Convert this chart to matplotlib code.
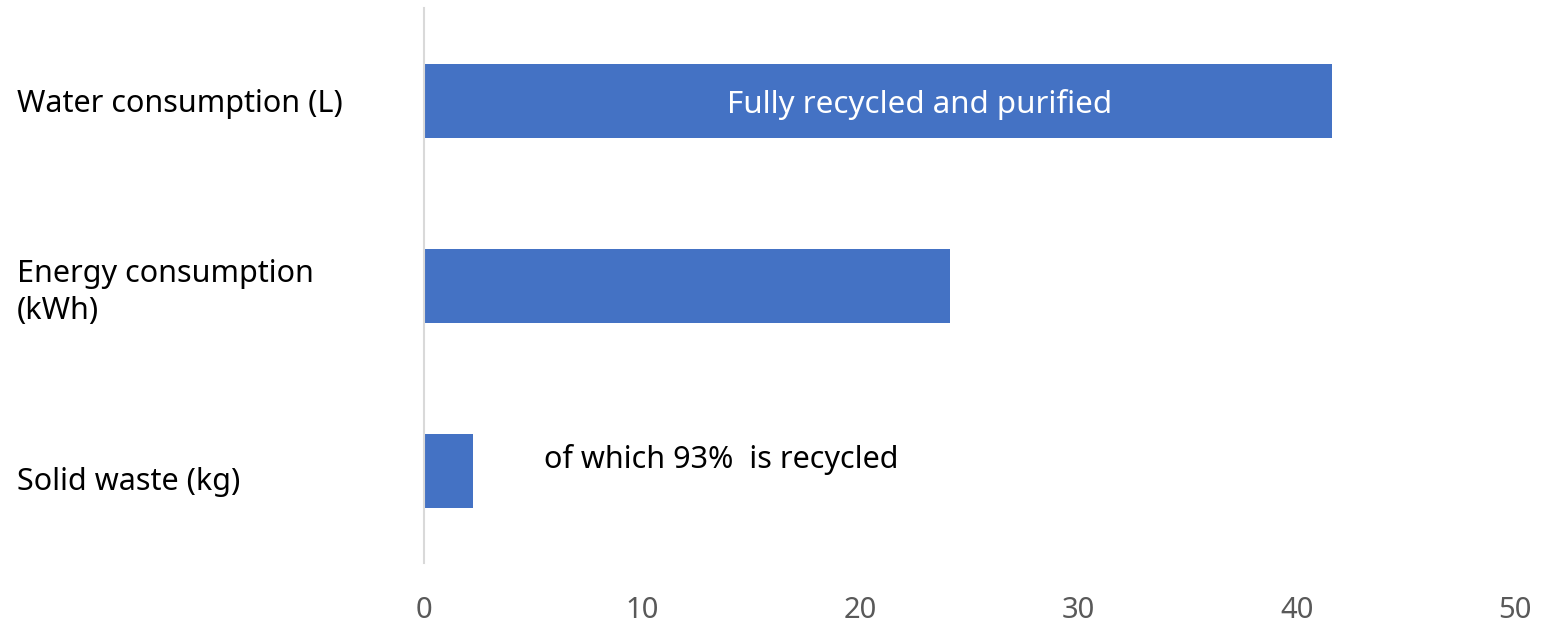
import matplotlib.pyplot as plt
import matplotlib.transforms as mtransforms

plt.rcParams['font.family'] = ['Noto Sans', 'DejaVu Sans']

categories = ['Water consumption (L)', 'Energy consumption\n(kWh)', 'Solid waste (kg)']
values = [41.6, 24.1, 2.25]
x_ticks = [0, 10, 20, 30, 40, 50]

fig = plt.figure(figsize=(15.42, 6.33), dpi=100)
ax = fig.add_axes([424 / 1542, 1 - 563 / 633, (1515 - 424) / 1542, (563 - 8) / 633])

ypos = list(range(len(categories)))
ax.barh(ypos, values, height=0.4, color='#4472C4')
ax.set_ylim(2.5, -0.5)
ax.set_xlim(0, 50)

ax.set_xticks(x_ticks)
ax.set_xticklabels([str(t) for t in x_ticks], fontsize=21, color='#595959')
ax.tick_params(axis='x', length=0, pad=24)

ax.set_yticks(ypos)
ax.set_yticklabels(categories, fontsize=22, color='black', linespacing=1.3)
ax.tick_params(axis='y', length=0, pad=293)
for lab in ax.get_yticklabels():
    lab.set_horizontalalignment('left')

# the bottom label sits a little lower than its bar in the original
ylabs = ax.get_yticklabels()
ylabs[2].set_transform(ylabs[2].get_transform() +
                       mtransforms.ScaledTranslation(0, -8 / 100, fig.dpi_scale_trans))

for s in ['top', 'right', 'bottom']:
    ax.spines[s].set_visible(False)
ax.spines['left'].set_color('#D9D9D9')
ax.spines['left'].set_linewidth(1.5)

ax.text(22.7, 0.02, 'Fully recycled and purified', color='white', fontsize=22.5,
        ha='center', va='center')
ax.text(5.5, 1.94, 'of which 93%  is recycled', color='black', fontsize=22,
        ha='left', va='center')

fig.savefig('out.png', dpi=100)
